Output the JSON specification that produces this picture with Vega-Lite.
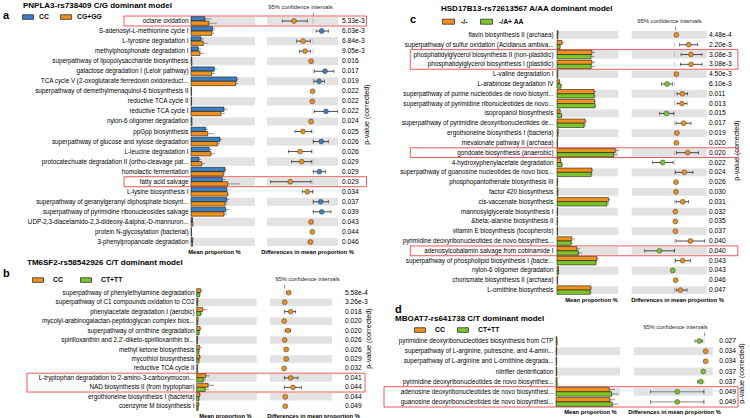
{
"$schema": "https://vega.github.io/schema/vega-lite/v6.json",
"padding": {"left": 3, "top": 1, "right": 0, "bottom": 0},
"config": {
  "font": "Liberation Sans",
  "view": {"stroke": null},
  "axis": {"grid": false, "domain": false, "ticks": false, "labels": false, "titleFontSize": 5.8, "titleFontWeight": "bold", "titleColor": "black", "titlePadding": 1},
  "title": {"color": "black"},
  "legend": {"padding": 0}
},
"datasets": {
  "a_ci": [
    {"path": "octane oxidation", "g": "CG+GG", "d": -0.19, "lo": -0.307, "hi": -0.057, "p": "5.33e-3"},
    {"path": "S-adenosyl-L-methionine cycle I", "g": "CC", "d": 0.087, "lo": 0.03, "hi": 0.153, "p": "6.03e-3"},
    {"path": "L-tyrosine degradation I", "g": "CG+GG", "d": -0.10, "lo": -0.163, "hi": -0.027, "p": "6.84e-3"},
    {"path": "methylphosphonate degradation I", "g": "CG+GG", "d": -0.08, "lo": -0.137, "hi": -0.023, "p": "9.05e-3"},
    {"path": "superpathway of lipopolysaccharide biosynthesis", "g": "CG+GG", "d": -0.02, "lo": -0.03, "hi": -0.01, "p": "0.016"},
    {"path": "galactose degradation I (Leloir pathway)", "g": "CC", "d": 0.12, "lo": 0.013, "hi": 0.21, "p": "0.017"},
    {"path": "TCA cycle V (2-oxoglutarate:ferredoxin oxidoreduct...", "g": "CC", "d": 0.06, "lo": 0.01, "hi": 0.113, "p": "0.019"},
    {"path": "superpathway of demethylmenaquinol-6 biosynthesis II", "g": "CG+GG", "d": -0.004, "lo": -0.006, "hi": -0.002, "p": "0.022"},
    {"path": "reductive TCA cycle II", "g": "CG+GG", "d": -0.007, "lo": -0.01, "hi": -0.004, "p": "0.022"},
    {"path": "reductive TCA cycle I", "g": "CC", "d": 0.13, "lo": 0.013, "hi": 0.247, "p": "0.022"},
    {"path": "nylon-6 oligomer degradation", "g": "CG+GG", "d": -0.02, "lo": -0.03, "hi": -0.01, "p": "0.024"},
    {"path": "ppGpp biosynthesis", "g": "CG+GG", "d": -0.10, "lo": -0.18, "hi": -0.013, "p": "0.025"},
    {"path": "superpathway of glucose and xylose degradation", "g": "CC", "d": 0.083, "lo": 0.003, "hi": 0.153, "p": "0.026"},
    {"path": "L-leucine degradation I", "g": "CG+GG", "d": -0.13, "lo": -0.247, "hi": -0.013, "p": "0.026"},
    {"path": "protocatechuate degradation II (ortho-cleavage pat...", "g": "CG+GG", "d": -0.113, "lo": -0.213, "hi": -0.013, "p": "0.029"},
    {"path": "homolactic fermentation", "g": "CC", "d": 0.063, "lo": 0.003, "hi": 0.127, "p": "0.029"},
    {"path": "fatty acid salvage", "g": "CG+GG", "d": -0.227, "lo": -0.423, "hi": -0.02, "p": "0.029"},
    {"path": "L-lysine biosynthesis I", "g": "CG+GG", "d": -0.057, "lo": -0.107, "hi": -0.003, "p": "0.034"},
    {"path": "superpathway of geranylgeranyl diphosphate biosynt...", "g": "CC", "d": 0.077, "lo": 0.003, "hi": 0.153, "p": "0.037"},
    {"path": "superpathway of pyrimidine ribonucleosides salvage", "g": "CC", "d": 0.087, "lo": 0.003, "hi": 0.18, "p": "0.039"},
    {"path": "UDP-2,3-diacetamido-2,3-dideoxy-&alpha;-D-mannuron...", "g": "CG+GG", "d": -0.02, "lo": -0.03, "hi": -0.01, "p": "0.043"},
    {"path": "protein N-glycosylation (bacterial)", "g": "CG+GG", "d": -0.007, "lo": -0.01, "hi": -0.004, "p": "0.044"},
    {"path": "3-phenylpropanoate degradation", "g": "CG+GG", "d": -0.027, "lo": -0.04, "hi": -0.015, "p": "0.046"}
  ],
  "a_bars": [
    {"path": "octane oxidation", "g": "CC", "m": 0.14, "hi": 0.207},
    {"path": "octane oxidation", "g": "CG+GG", "m": 0.18, "hi": 0.257},
    {"path": "S-adenosyl-L-methionine cycle I", "g": "CC", "m": 0.217, "hi": 0.24},
    {"path": "S-adenosyl-L-methionine cycle I", "g": "CG+GG", "m": 0.207, "hi": 0.23},
    {"path": "L-tyrosine degradation I", "g": "CC", "m": 0.10, "hi": 0.13},
    {"path": "L-tyrosine degradation I", "g": "CG+GG", "m": 0.123, "hi": 0.167},
    {"path": "methylphosphonate degradation I", "g": "CC", "m": 0.073, "hi": 0.10},
    {"path": "methylphosphonate degradation I", "g": "CG+GG", "m": 0.09, "hi": 0.133},
    {"path": "superpathway of lipopolysaccharide biosynthesis", "g": "CC", "m": 0.008, "hi": 0.012},
    {"path": "superpathway of lipopolysaccharide biosynthesis", "g": "CG+GG", "m": 0.009, "hi": 0.013},
    {"path": "galactose degradation I (Leloir pathway)", "g": "CC", "m": 0.233, "hi": 0.26},
    {"path": "galactose degradation I (Leloir pathway)", "g": "CG+GG", "m": 0.207, "hi": 0.24},
    {"path": "TCA cycle V (2-oxoglutarate:ferredoxin oxidoreduct...", "g": "CC", "m": 0.457, "hi": 0.48},
    {"path": "TCA cycle V (2-oxoglutarate:ferredoxin oxidoreduct...", "g": "CG+GG", "m": 0.447, "hi": 0.47},
    {"path": "superpathway of demethylmenaquinol-6 biosynthesis II", "g": "CC", "m": 0.006, "hi": 0.008},
    {"path": "superpathway of demethylmenaquinol-6 biosynthesis II", "g": "CG+GG", "m": 0.005, "hi": 0.007},
    {"path": "reductive TCA cycle II", "g": "CC", "m": 0.006, "hi": 0.008},
    {"path": "reductive TCA cycle II", "g": "CG+GG", "m": 0.005, "hi": 0.007},
    {"path": "reductive TCA cycle I", "g": "CC", "m": 0.33, "hi": 0.367},
    {"path": "reductive TCA cycle I", "g": "CG+GG", "m": 0.30, "hi": 0.34},
    {"path": "nylon-6 oligomer degradation", "g": "CC", "m": 0.009, "hi": 0.013},
    {"path": "nylon-6 oligomer degradation", "g": "CG+GG", "m": 0.01, "hi": 0.015},
    {"path": "ppGpp biosynthesis", "g": "CC", "m": 0.147, "hi": 0.17},
    {"path": "ppGpp biosynthesis", "g": "CG+GG", "m": 0.167, "hi": 0.233},
    {"path": "superpathway of glucose and xylose degradation", "g": "CC", "m": 0.29, "hi": 0.313},
    {"path": "superpathway of glucose and xylose degradation", "g": "CG+GG", "m": 0.263, "hi": 0.29},
    {"path": "L-leucine degradation I", "g": "CC", "m": 0.183, "hi": 0.21},
    {"path": "L-leucine degradation I", "g": "CG+GG", "m": 0.20, "hi": 0.24},
    {"path": "protocatechuate degradation II (ortho-cleavage pat...", "g": "CC", "m": 0.08, "hi": 0.10},
    {"path": "protocatechuate degradation II (ortho-cleavage pat...", "g": "CG+GG", "m": 0.107, "hi": 0.14},
    {"path": "homolactic fermentation", "g": "CC", "m": 0.34, "hi": 0.357},
    {"path": "homolactic fermentation", "g": "CG+GG", "m": 0.323, "hi": 0.345},
    {"path": "fatty acid salvage", "g": "CC", "m": 0.313, "hi": 0.35},
    {"path": "fatty acid salvage", "g": "CG+GG", "m": 0.367, "hi": 0.49},
    {"path": "L-lysine biosynthesis I", "g": "CC", "m": 0.357, "hi": 0.375},
    {"path": "L-lysine biosynthesis I", "g": "CG+GG", "m": 0.367, "hi": 0.383},
    {"path": "superpathway of geranylgeranyl diphosphate biosynt...", "g": "CC", "m": 0.357, "hi": 0.383},
    {"path": "superpathway of geranylgeranyl diphosphate biosynt...", "g": "CG+GG", "m": 0.34, "hi": 0.365},
    {"path": "superpathway of pyrimidine ribonucleosides salvage", "g": "CC", "m": 0.347, "hi": 0.383},
    {"path": "superpathway of pyrimidine ribonucleosides salvage", "g": "CG+GG", "m": 0.33, "hi": 0.36},
    {"path": "UDP-2,3-diacetamido-2,3-dideoxy-&alpha;-D-mannuron...", "g": "CC", "m": 0.015, "hi": 0.02},
    {"path": "UDP-2,3-diacetamido-2,3-dideoxy-&alpha;-D-mannuron...", "g": "CG+GG", "m": 0.018, "hi": 0.025},
    {"path": "protein N-glycosylation (bacterial)", "g": "CC", "m": 0.005, "hi": 0.007},
    {"path": "protein N-glycosylation (bacterial)", "g": "CG+GG", "m": 0.006, "hi": 0.008},
    {"path": "3-phenylpropanoate degradation", "g": "CC", "m": 0.018, "hi": 0.023},
    {"path": "3-phenylpropanoate degradation", "g": "CG+GG", "m": 0.015, "hi": 0.021}
  ],
  "a_hl": [
    {"first": "octane oxidation", "last": "octane oxidation"},
    {"first": "fatty acid salvage", "last": "fatty acid salvage"}
  ],
  "b_ci": [
    {"path": "superpathway of phenylethylamine degradation", "g": "CC", "d": 0.047, "lo": 0.024, "hi": 0.067, "p": "5.58e-4"},
    {"path": "superpathway of C1 compounds oxidation to CO2", "g": "CC", "d": 0.007, "lo": 0.004, "hi": 0.01, "p": "3.26e-3"},
    {"path": "phenylacetate degradation I (aerobic)", "g": "CC", "d": 0.067, "lo": 0.007, "hi": 0.117, "p": "0.018"},
    {"path": "mycolyl-arabinogalactan-peptidoglycan complex bios...", "g": "CC", "d": 0.002, "lo": 0.0, "hi": 0.004, "p": "0.020"},
    {"path": "superpathway of ornithine degradation", "g": "CC", "d": 0.04, "lo": 0.013, "hi": 0.067, "p": "0.020"},
    {"path": "spirilloxanthin and 2,2'-diketo-spirilloxanthin bi...", "g": "CC", "d": 0.007, "lo": 0.004, "hi": 0.01, "p": "0.026"},
    {"path": "methyl ketone biosynthesis", "g": "CC", "d": 0.023, "lo": 0.015, "hi": 0.03, "p": "0.026"},
    {"path": "mycothiol biosynthesis", "g": "CC", "d": 0.023, "lo": 0.015, "hi": 0.03, "p": "0.029"},
    {"path": "reductive TCA cycle II", "g": "CC", "d": 0.002, "lo": 0.0, "hi": 0.004, "p": "0.032"},
    {"path": "L-tryptophan degradation to 2-amino-3-carboxymucon...", "g": "CC", "d": 0.067, "lo": 0.007, "hi": 0.14, "p": "0.041"},
    {"path": "NAD biosynthesis II (from tryptophan)", "g": "CC", "d": 0.09, "lo": 0.007, "hi": 0.173, "p": "0.044"},
    {"path": "ergothioneine biosynthesis I (bacteria)", "g": "CC", "d": 0.013, "lo": 0.008, "hi": 0.018, "p": "0.044"},
    {"path": "coenzyme M biosynthesis I", "g": "CC", "d": 0.013, "lo": 0.008, "hi": 0.018, "p": "0.049"}
  ],
  "b_bars": [
    {"path": "superpathway of phenylethylamine degradation", "g": "CC", "m": 0.04, "hi": 0.06},
    {"path": "superpathway of phenylethylamine degradation", "g": "CT+TT", "m": 0.03, "hi": 0.04},
    {"path": "superpathway of C1 compounds oxidation to CO2", "g": "CC", "m": 0.012, "hi": 0.016},
    {"path": "superpathway of C1 compounds oxidation to CO2", "g": "CT+TT", "m": 0.01, "hi": 0.014},
    {"path": "phenylacetate degradation I (aerobic)", "g": "CC", "m": 0.06, "hi": 0.10},
    {"path": "phenylacetate degradation I (aerobic)", "g": "CT+TT", "m": 0.04, "hi": 0.06},
    {"path": "mycolyl-arabinogalactan-peptidoglycan complex bios...", "g": "CC", "m": 0.012, "hi": 0.016},
    {"path": "mycolyl-arabinogalactan-peptidoglycan complex bios...", "g": "CT+TT", "m": 0.01, "hi": 0.014},
    {"path": "superpathway of ornithine degradation", "g": "CC", "m": 0.035, "hi": 0.045},
    {"path": "superpathway of ornithine degradation", "g": "CT+TT", "m": 0.025, "hi": 0.03},
    {"path": "spirilloxanthin and 2,2'-diketo-spirilloxanthin bi...", "g": "CC", "m": 0.01, "hi": 0.014},
    {"path": "spirilloxanthin and 2,2'-diketo-spirilloxanthin bi...", "g": "CT+TT", "m": 0.008, "hi": 0.012},
    {"path": "methyl ketone biosynthesis", "g": "CC", "m": 0.03, "hi": 0.045},
    {"path": "methyl ketone biosynthesis", "g": "CT+TT", "m": 0.022, "hi": 0.03},
    {"path": "mycothiol biosynthesis", "g": "CC", "m": 0.03, "hi": 0.045},
    {"path": "mycothiol biosynthesis", "g": "CT+TT", "m": 0.022, "hi": 0.03},
    {"path": "reductive TCA cycle II", "g": "CC", "m": 0.01, "hi": 0.014},
    {"path": "reductive TCA cycle II", "g": "CT+TT", "m": 0.009, "hi": 0.012},
    {"path": "L-tryptophan degradation to 2-amino-3-carboxymucon...", "g": "CC", "m": 0.09, "hi": 0.13},
    {"path": "L-tryptophan degradation to 2-amino-3-carboxymucon...", "g": "CT+TT", "m": 0.065, "hi": 0.09},
    {"path": "NAD biosynthesis II (from tryptophan)", "g": "CC", "m": 0.115, "hi": 0.175},
    {"path": "NAD biosynthesis II (from tryptophan)", "g": "CT+TT", "m": 0.085, "hi": 0.12},
    {"path": "ergothioneine biosynthesis I (bacteria)", "g": "CC", "m": 0.03, "hi": 0.045},
    {"path": "ergothioneine biosynthesis I (bacteria)", "g": "CT+TT", "m": 0.022, "hi": 0.03},
    {"path": "coenzyme M biosynthesis I", "g": "CC", "m": 0.02, "hi": 0.03},
    {"path": "coenzyme M biosynthesis I", "g": "CT+TT", "m": 0.015, "hi": 0.02}
  ],
  "b_hl": [
    {"first": "L-tryptophan degradation to 2-amino-3-carboxymucon...", "last": "NAD biosynthesis II (from tryptophan)"}
  ],
  "c_ci": [
    {"path": "flavin biosynthesis II (archaea)", "g": "-/-", "d": 0.017, "lo": 0.012, "hi": 0.022, "p": "4.48e-4"},
    {"path": "superpathway of sulfur oxidation (Acidianus ambiva...", "g": "-/-", "d": 0.14, "lo": 0.05, "hi": 0.23, "p": "2.20e-3"},
    {"path": "phosphatidylglycerol biosynthesis II (non-plastidic)", "g": "-/-", "d": 0.163, "lo": 0.063, "hi": 0.273, "p": "3.08e-3"},
    {"path": "phosphatidylglycerol biosynthesis I (plastidic)", "g": "-/-", "d": 0.163, "lo": 0.057, "hi": 0.273, "p": "3.08e-3"},
    {"path": "L-valine degradation I", "g": "-/-", "d": 0.017, "lo": 0.012, "hi": 0.022, "p": "4.50e-3"},
    {"path": "L-arabinose degradation IV", "g": "-/A+ AA", "d": -0.077, "lo": -0.133, "hi": -0.023, "p": "6.10e-3"},
    {"path": "superpathway of purine nucleotides de novo biosynt...", "g": "-/-", "d": 0.077, "lo": 0.023, "hi": 0.13, "p": "0.011"},
    {"path": "superpathway of pyrimidine ribonucleotides de novo...", "g": "-/-", "d": 0.073, "lo": 0.023, "hi": 0.123, "p": "0.013"},
    {"path": "isopropanol biosynthesis", "g": "-/A+ AA", "d": -0.083, "lo": -0.15, "hi": -0.01, "p": "0.015"},
    {"path": "superpathway of pyrimidine deoxyribonucleotides de...", "g": "-/-", "d": 0.09, "lo": 0.013, "hi": 0.163, "p": "0.017"},
    {"path": "ergothioneine biosynthesis I (bacteria)", "g": "-/-", "d": 0.023, "lo": 0.018, "hi": 0.028, "p": "0.019"},
    {"path": "mevalonate pathway II (archaea)", "g": "-/-", "d": 0.017, "lo": 0.012, "hi": 0.022, "p": "0.020"},
    {"path": "gondoate biosynthesis (anaerobic)", "g": "-/-", "d": 0.13, "lo": 0.017, "hi": 0.24, "p": "0.020"},
    {"path": "4-hydroxyphenylacetate degradation", "g": "-/A+ AA", "d": -0.12, "lo": -0.22, "hi": -0.017, "p": "0.022"},
    {"path": "superpathway of guanosine nucleotides de novo bios...", "g": "-/-", "d": 0.097, "lo": 0.007, "hi": 0.183, "p": "0.024"},
    {"path": "phosphopantothenate biosynthesis III", "g": "-/-", "d": 0.013, "lo": 0.009, "hi": 0.017, "p": "0.026"},
    {"path": "factor 420 biosynthesis", "g": "-/-", "d": 0.013, "lo": 0.009, "hi": 0.017, "p": "0.030"},
    {"path": "cis-vaccenate biosynthesis", "g": "-/-", "d": 0.08, "lo": 0.013, "hi": 0.14, "p": "0.031"},
    {"path": "mannosylglycerate biosynthesis I", "g": "-/-", "d": 0.007, "lo": 0.004, "hi": 0.01, "p": "0.032"},
    {"path": "&beta;-alanine biosynthesis II", "g": "-/-", "d": 0.007, "lo": 0.004, "hi": 0.01, "p": "0.035"},
    {"path": "vitamin E biosynthesis (tocopherols)", "g": "-/-", "d": 0.007, "lo": 0.004, "hi": 0.01, "p": "0.037"},
    {"path": "pyrimidine deoxyribonucleotides de novo biosynthes...", "g": "-/-", "d": 0.157, "lo": 0.013, "hi": 0.297, "p": "0.040"},
    {"path": "adenosylcobalamin salvage from cobinamide I", "g": "-/A+ AA", "d": -0.153, "lo": -0.30, "hi": -0.003, "p": "0.040"},
    {"path": "superpathway of phospholipid biosynthesis I (bacte...", "g": "-/-", "d": 0.08, "lo": 0.007, "hi": 0.157, "p": "0.043"},
    {"path": "nylon-6 oligomer degradation", "g": "-/A+ AA", "d": -0.02, "lo": -0.03, "hi": -0.01, "p": "0.043"},
    {"path": "chorismate biosynthesis II (archaea)", "g": "-/-", "d": 0.01, "lo": 0.006, "hi": 0.014, "p": "0.046"},
    {"path": "L-ornithine biosynthesis", "g": "-/-", "d": 0.057, "lo": 0.013, "hi": 0.123, "p": "0.047"}
  ],
  "c_bars": [
    {"path": "flavin biosynthesis II (archaea)", "g": "-/-", "m": 0.01, "hi": 0.014},
    {"path": "flavin biosynthesis II (archaea)", "g": "-/A+ AA", "m": 0.008, "hi": 0.012},
    {"path": "superpathway of sulfur oxidation (Acidianus ambiva...", "g": "-/-", "m": 0.05, "hi": 0.07},
    {"path": "superpathway of sulfur oxidation (Acidianus ambiva...", "g": "-/A+ AA", "m": 0.03, "hi": 0.04},
    {"path": "phosphatidylglycerol biosynthesis II (non-plastidic)", "g": "-/-", "m": 0.347, "hi": 0.38},
    {"path": "phosphatidylglycerol biosynthesis II (non-plastidic)", "g": "-/A+ AA", "m": 0.337, "hi": 0.37},
    {"path": "phosphatidylglycerol biosynthesis I (plastidic)", "g": "-/-", "m": 0.347, "hi": 0.38},
    {"path": "phosphatidylglycerol biosynthesis I (plastidic)", "g": "-/A+ AA", "m": 0.34, "hi": 0.37},
    {"path": "L-valine degradation I", "g": "-/-", "m": 0.007, "hi": 0.01},
    {"path": "L-valine degradation I", "g": "-/A+ AA", "m": 0.007, "hi": 0.01},
    {"path": "L-arabinose degradation IV", "g": "-/-", "m": 0.025, "hi": 0.035},
    {"path": "L-arabinose degradation IV", "g": "-/A+ AA", "m": 0.04, "hi": 0.05},
    {"path": "superpathway of purine nucleotides de novo biosynt...", "g": "-/-", "m": 0.37, "hi": 0.39},
    {"path": "superpathway of purine nucleotides de novo biosynt...", "g": "-/A+ AA", "m": 0.37, "hi": 0.39},
    {"path": "superpathway of pyrimidine ribonucleotides de novo...", "g": "-/-", "m": 0.373, "hi": 0.39},
    {"path": "superpathway of pyrimidine ribonucleotides de novo...", "g": "-/A+ AA", "m": 0.38, "hi": 0.39},
    {"path": "isopropanol biosynthesis", "g": "-/-", "m": 0.03, "hi": 0.04},
    {"path": "isopropanol biosynthesis", "g": "-/A+ AA", "m": 0.045, "hi": 0.055},
    {"path": "superpathway of pyrimidine deoxyribonucleotides de...", "g": "-/-", "m": 0.28, "hi": 0.297},
    {"path": "superpathway of pyrimidine deoxyribonucleotides de...", "g": "-/A+ AA", "m": 0.27, "hi": 0.29},
    {"path": "ergothioneine biosynthesis I (bacteria)", "g": "-/-", "m": 0.012, "hi": 0.016},
    {"path": "ergothioneine biosynthesis I (bacteria)", "g": "-/A+ AA", "m": 0.01, "hi": 0.014},
    {"path": "mevalonate pathway II (archaea)", "g": "-/-", "m": 0.007, "hi": 0.01},
    {"path": "mevalonate pathway II (archaea)", "g": "-/A+ AA", "m": 0.006, "hi": 0.009},
    {"path": "gondoate biosynthesis (anaerobic)", "g": "-/-", "m": 0.58, "hi": 0.613},
    {"path": "gondoate biosynthesis (anaerobic)", "g": "-/A+ AA", "m": 0.563, "hi": 0.6},
    {"path": "4-hydroxyphenylacetate degradation", "g": "-/-", "m": 0.035, "hi": 0.045},
    {"path": "4-hydroxyphenylacetate degradation", "g": "-/A+ AA", "m": 0.05, "hi": 0.06},
    {"path": "superpathway of guanosine nucleotides de novo bios...", "g": "-/-", "m": 0.347, "hi": 0.357},
    {"path": "superpathway of guanosine nucleotides de novo bios...", "g": "-/A+ AA", "m": 0.34, "hi": 0.355},
    {"path": "phosphopantothenate biosynthesis III", "g": "-/-", "m": 0.007, "hi": 0.01},
    {"path": "phosphopantothenate biosynthesis III", "g": "-/A+ AA", "m": 0.006, "hi": 0.009},
    {"path": "factor 420 biosynthesis", "g": "-/-", "m": 0.01, "hi": 0.013},
    {"path": "factor 420 biosynthesis", "g": "-/A+ AA", "m": 0.009, "hi": 0.012},
    {"path": "cis-vaccenate biosynthesis", "g": "-/-", "m": 0.513, "hi": 0.53},
    {"path": "cis-vaccenate biosynthesis", "g": "-/A+ AA", "m": 0.497, "hi": 0.52},
    {"path": "mannosylglycerate biosynthesis I", "g": "-/-", "m": 0.006, "hi": 0.008},
    {"path": "mannosylglycerate biosynthesis I", "g": "-/A+ AA", "m": 0.005, "hi": 0.007},
    {"path": "&beta;-alanine biosynthesis II", "g": "-/-", "m": 0.006, "hi": 0.008},
    {"path": "&beta;-alanine biosynthesis II", "g": "-/A+ AA", "m": 0.005, "hi": 0.007},
    {"path": "vitamin E biosynthesis (tocopherols)", "g": "-/-", "m": 0.006, "hi": 0.008},
    {"path": "vitamin E biosynthesis (tocopherols)", "g": "-/A+ AA", "m": 0.005, "hi": 0.007},
    {"path": "pyrimidine deoxyribonucleotides de novo biosynthes...", "g": "-/-", "m": 0.147, "hi": 0.18},
    {"path": "pyrimidine deoxyribonucleotides de novo biosynthes...", "g": "-/A+ AA", "m": 0.14, "hi": 0.16},
    {"path": "adenosylcobalamin salvage from cobinamide I", "g": "-/-", "m": 0.197, "hi": 0.23},
    {"path": "adenosylcobalamin salvage from cobinamide I", "g": "-/A+ AA", "m": 0.213, "hi": 0.247},
    {"path": "superpathway of phospholipid biosynthesis I (bacte...", "g": "-/-", "m": 0.397, "hi": 0.413},
    {"path": "superpathway of phospholipid biosynthesis I (bacte...", "g": "-/A+ AA", "m": 0.387, "hi": 0.40},
    {"path": "nylon-6 oligomer degradation", "g": "-/-", "m": 0.015, "hi": 0.018},
    {"path": "nylon-6 oligomer degradation", "g": "-/A+ AA", "m": 0.016, "hi": 0.02},
    {"path": "chorismate biosynthesis II (archaea)", "g": "-/-", "m": 0.007, "hi": 0.01},
    {"path": "chorismate biosynthesis II (archaea)", "g": "-/A+ AA", "m": 0.006, "hi": 0.009},
    {"path": "L-ornithine biosynthesis", "g": "-/-", "m": 0.337, "hi": 0.347},
    {"path": "L-ornithine biosynthesis", "g": "-/A+ AA", "m": 0.33, "hi": 0.345}
  ],
  "c_hl": [
    {"first": "phosphatidylglycerol biosynthesis II (non-plastidic)", "last": "phosphatidylglycerol biosynthesis I (plastidic)"},
    {"first": "gondoate biosynthesis (anaerobic)", "last": "gondoate biosynthesis (anaerobic)"},
    {"first": "adenosylcobalamin salvage from cobinamide I", "last": "adenosylcobalamin salvage from cobinamide I"}
  ],
  "d_ci": [
    {"path": "pyrimidine deoxyribonucleotides biosynthesis from CTP", "g": "CT+TT", "d": -0.047, "lo": -0.09, "hi": -0.017, "p": "0.027"},
    {"path": "superpathway of L-arginine, putrescine, and 4-amin...", "g": "CC", "d": 0.017, "lo": 0.012, "hi": 0.022, "p": "0.034"},
    {"path": "superpathway of L-arginine and L-ornithine degrada...", "g": "CC", "d": 0.017, "lo": 0.012, "hi": 0.022, "p": "0.034"},
    {"path": "nitrifier denitrification", "g": "CT+TT", "d": -0.007, "lo": -0.01, "hi": -0.004, "p": "0.037"},
    {"path": "pyrimidine deoxyribonucleotides de novo biosynthes...", "g": "CT+TT", "d": -0.033, "lo": -0.067, "hi": -0.013, "p": "0.037"},
    {"path": "adenosine deoxyribonucleotides de novo biosynthesi...", "g": "CT+TT", "d": -0.267, "lo": -0.533, "hi": -0.001, "p": "0.049"},
    {"path": "guanosine deoxyribonucleotides de novo biosynthesi...", "g": "CT+TT", "d": -0.267, "lo": -0.533, "hi": -0.001, "p": "0.049"}
  ],
  "d_bars": [
    {"path": "pyrimidine deoxyribonucleotides biosynthesis from CTP", "g": "CC", "m": 0.01, "hi": 0.013},
    {"path": "pyrimidine deoxyribonucleotides biosynthesis from CTP", "g": "CT+TT", "m": 0.012, "hi": 0.015},
    {"path": "superpathway of L-arginine, putrescine, and 4-amin...", "g": "CC", "m": 0.007, "hi": 0.01},
    {"path": "superpathway of L-arginine, putrescine, and 4-amin...", "g": "CT+TT", "m": 0.006, "hi": 0.009},
    {"path": "superpathway of L-arginine and L-ornithine degrada...", "g": "CC", "m": 0.007, "hi": 0.01},
    {"path": "superpathway of L-arginine and L-ornithine degrada...", "g": "CT+TT", "m": 0.006, "hi": 0.009},
    {"path": "nitrifier denitrification", "g": "CC", "m": 0.007, "hi": 0.01},
    {"path": "nitrifier denitrification", "g": "CT+TT", "m": 0.008, "hi": 0.011},
    {"path": "pyrimidine deoxyribonucleotides de novo biosynthes...", "g": "CC", "m": 0.01, "hi": 0.013},
    {"path": "pyrimidine deoxyribonucleotides de novo biosynthes...", "g": "CT+TT", "m": 0.012, "hi": 0.015},
    {"path": "adenosine deoxyribonucleotides de novo biosynthesi...", "g": "CC", "m": 0.533, "hi": 0.59},
    {"path": "adenosine deoxyribonucleotides de novo biosynthesi...", "g": "CT+TT", "m": 0.557, "hi": 0.623},
    {"path": "guanosine deoxyribonucleotides de novo biosynthesi...", "g": "CC", "m": 0.54, "hi": 0.59},
    {"path": "guanosine deoxyribonucleotides de novo biosynthesi...", "g": "CT+TT", "m": 0.563, "hi": 0.623}
  ],
  "d_hl": [
    {"first": "adenosine deoxyribonucleotides de novo biosynthesi...", "last": "guanosine deoxyribonucleotides de novo biosynthesi..."}
  ]
},
"bounds": "flush",
"spacing": 365,
"resolve": {"scale": {"x": "independent", "y": "independent", "fill": "independent", "yOffset": "independent"}, "legend": {"fill": "independent"}, "axis": {"x": "independent", "y": "independent"}},
"hconcat": [
 {"vconcat": [
  {
   "width": 180, "height": 231,
   "title": {"text": "PNPLA3-rs738409 C/G dominant model", "anchor": "start", "frame": "group", "dx": -167, "dy": 6, "offset": 0, "fontSize": 8, "fontWeight": "bold"},
   "resolve": {"scale": {"x": "independent"}, "axis": {"x": "independent", "y": "independent"}},
   "layer": [
    {"data": {"name": "a_ci"}, "transform": [{"window": [{"op": "row_number", "as": "rn"}]}],
     "mark": {"type": "bar", "height": {"band": 0.8}},
     "encoding": {
       "y": {"field": "path", "type": "nominal", "sort": null, "scale": {"paddingInner": 0, "paddingOuter": 0}, "axis": {"title": null, "labels": true, "labelFontSize": 6.3, "labelPadding": 2, "labelLimit": 400, "labelColor": "black", "orient": "left"}},
       "x": {"datum": 0, "type": "quantitative", "scale": {"domain": [0, 0.64], "range": [1, 65], "nice": false, "zero": false}, "axis": null},
       "x2": {"datum": 0.64},
       "color": {"condition": {"test": "datum.rn % 2 == 1", "value": "#e2e2e2"}, "value": "transparent"}
     }},
    {"data": {"name": "a_ci"}, "transform": [{"window": [{"op": "row_number", "as": "rn"}]}],
     "mark": {"type": "bar", "height": {"band": 0.8}},
     "encoding": {
       "y": {"field": "path", "type": "nominal", "sort": null, "axis": null},
       "x": {"datum": -0.46, "type": "quantitative", "scale": {"domain": [-0.46, 0.25], "range": [77, 148], "nice": false, "zero": false}, "axis": null},
       "x2": {"datum": 0.25},
       "color": {"condition": {"test": "datum.rn % 2 == 1", "value": "#e2e2e2"}, "value": "transparent"}
     }},
    {"data": {"name": "a_hl"}, "mark": {"type": "rect", "fill": null, "stroke": "#e8312f", "strokeWidth": 0.8, "yOffset": -5, "y2Offset": 5},
     "encoding": {
       "y": {"field": "first", "type": "nominal", "sort": null, "axis": null},
       "y2": {"field": "last"},
       "x": {"datum": -0.67, "type": "quantitative", "scale": {"domain": [0, 0.64], "range": [1, 65], "nice": false, "zero": false}, "axis": null},
       "x2": {"datum": 1.755}
     }},
    {"data": {"name": "a_bars"}, "mark": {"type": "rule", "color": "#555555", "strokeWidth": 0.6},
     "encoding": {
       "y": {"field": "path", "type": "nominal", "sort": null, "axis": null},
       "yOffset": {"field": "g", "type": "nominal", "sort": null, "scale": {"paddingOuter": 0.15, "paddingInner": 0}},
       "x": {"field": "m", "type": "quantitative", "scale": {"domain": [0, 0.64], "range": [1, 65], "nice": false, "zero": false}, "axis": null},
       "x2": {"field": "hi"}
     }},
    {"data": {"name": "a_bars"}, "mark": {"type": "bar", "stroke": "black", "strokeWidth": 0.5},
     "encoding": {
       "y": {"field": "path", "type": "nominal", "sort": null, "axis": null},
       "yOffset": {"field": "g", "type": "nominal", "sort": null},
       "x": {"field": "m", "type": "quantitative", "scale": {"domain": [0, 0.64], "range": [1, 65], "nice": false, "zero": false}, "axis": {"orient": "bottom", "title": "Mean proportion %", "titleX": 24}},
       "fill": {"field": "g", "type": "nominal", "scale": {"domain": ["CC", "CG+GG"], "range": ["#3a7fc1", "#f0901e"]},
         "legend": {"orient": "none", "legendX": -187, "legendY": -5, "direction": "horizontal", "title": "a", "titleOrient": "left", "titleFontSize": 11, "titleFontWeight": "bold", "titleColor": "black", "titlePadding": 12, "titleBaseline": "middle", "symbolType": "M-1,-0.42H1V0.42H-1Z", "symbolSize": 121, "symbolStrokeColor": "black", "symbolStrokeWidth": 0.8, "symbolOpacity": 1, "labelFontSize": 6.8, "labelFontWeight": "bold", "labelOffset": 5, "columnPadding": 9}}
     }},
    {"data": {"name": "a_ci"}, "mark": {"type": "tick", "color": "#777777", "size": 5, "thickness": 0.5},
     "encoding": {
       "y": {"field": "path", "type": "nominal", "sort": null, "axis": null},
       "x": {"datum": 0, "type": "quantitative", "scale": {"domain": [-0.46, 0.25], "range": [77, 148], "nice": false, "zero": false}, "axis": {"orient": "top", "values": [0], "ticks": true, "tickSize": 4, "tickColor": "#555555", "tickWidth": 0.6, "title": "95% confidence intervals", "titleFontWeight": "normal", "titleColor": "#222222", "titlePadding": 2, "titleX": 110}}
     }},
    {"data": {"name": "a_ci"}, "mark": {"type": "rule", "color": "black", "strokeWidth": 0.7},
     "encoding": {
       "y": {"field": "path", "type": "nominal", "sort": null, "axis": null},
       "x": {"field": "lo", "type": "quantitative", "scale": {"domain": [-0.46, 0.25], "range": [77, 148], "nice": false, "zero": false}, "axis": null},
       "x2": {"field": "hi"}
     }},
    {"data": {"name": "a_ci"}, "mark": {"type": "tick", "color": "black", "size": 3.5, "thickness": 0.7},
     "encoding": {
       "y": {"field": "path", "type": "nominal", "sort": null, "axis": null},
       "x": {"field": "lo", "type": "quantitative", "scale": {"domain": [-0.46, 0.25], "range": [77, 148], "nice": false, "zero": false}, "axis": null}
     }},
    {"data": {"name": "a_ci"}, "mark": {"type": "tick", "color": "black", "size": 3.5, "thickness": 0.7},
     "encoding": {
       "y": {"field": "path", "type": "nominal", "sort": null, "axis": null},
       "x": {"field": "hi", "type": "quantitative", "scale": {"domain": [-0.46, 0.25], "range": [77, 148], "nice": false, "zero": false}, "axis": null}
     }},
    {"data": {"name": "a_ci"}, "mark": {"type": "point", "filled": true, "size": 24, "stroke": "#333333", "strokeWidth": 0.5, "opacity": 1},
     "encoding": {
       "y": {"field": "path", "type": "nominal", "sort": null, "axis": null},
       "x": {"field": "d", "type": "quantitative", "scale": {"domain": [-0.46, 0.25], "range": [77, 148], "nice": false, "zero": false}, "axis": {"orient": "bottom", "title": "Differences in mean proportion %", "titleX": 117}},
       "fill": {"field": "g", "type": "nominal"}
     }},
    {"data": {"name": "a_ci"}, "mark": {"type": "text", "align": "left", "fontSize": 6.7, "color": "black"},
     "encoding": {
       "y": {"field": "path", "type": "nominal", "sort": null, "axis": {"orient": "right", "title": "p-value (corrected)", "titleAngle": 270, "titleAlign": "center", "titleFontWeight": "normal", "titleFontSize": 7.2, "titlePadding": 0, "titleY": 98}},
       "x": {"datum": 0.29, "type": "quantitative", "scale": {"domain": [-0.46, 0.25], "range": [77, 148], "nice": false, "zero": false}, "axis": null},
       "text": {"field": "p"}
     }}
   ]
  },
  {
   "width": 180, "height": 123,
   "title": {"text": "TM6SF2-rs58542926 C/T dominant model", "anchor": "start", "frame": "group", "dx": -163, "dy": -7, "offset": 0, "fontSize": 8, "fontWeight": "bold"},
   "resolve": {"scale": {"x": "independent"}, "axis": {"x": "independent", "y": "independent"}},
   "layer": [
    {"data": {"name": "b_ci"}, "transform": [{"window": [{"op": "row_number", "as": "rn"}]}],
     "mark": {"type": "bar", "height": {"band": 0.8}},
     "encoding": {
       "y": {"field": "path", "type": "nominal", "sort": null, "scale": {"paddingInner": 0, "paddingOuter": 0}, "axis": {"title": null, "labels": true, "labelFontSize": 6.3, "labelPadding": 2, "labelLimit": 400, "labelColor": "black", "orient": "left", "offset": -6}},
       "x": {"datum": 0, "type": "quantitative", "scale": {"domain": [0, 0.6], "range": [6.7, 66.7], "nice": false, "zero": false}, "axis": null},
       "x2": {"datum": 0.6},
       "color": {"condition": {"test": "datum.rn % 2 == 0", "value": "#e2e2e2"}, "value": "transparent"}
     }},
    {"data": {"name": "b_ci"}, "transform": [{"window": [{"op": "row_number", "as": "rn"}]}],
     "mark": {"type": "bar", "height": {"band": 0.8}},
     "encoding": {
       "y": {"field": "path", "type": "nominal", "sort": null, "axis": null},
       "x": {"datum": -0.14, "type": "quantitative", "scale": {"domain": [-0.14, 0.48], "range": [80, 142], "nice": false, "zero": false}, "axis": null},
       "x2": {"datum": 0.48},
       "color": {"condition": {"test": "datum.rn % 2 == 0", "value": "#e2e2e2"}, "value": "transparent"}
     }},
    {"data": {"name": "b_hl"}, "mark": {"type": "rect", "fill": null, "stroke": "#e8312f", "strokeWidth": 0.8, "yOffset": -4.7, "y2Offset": 4.7},
     "encoding": {
       "y": {"field": "first", "type": "nominal", "sort": null, "axis": null},
       "y2": {"field": "last"},
       "x": {"datum": -1.697, "type": "quantitative", "scale": {"domain": [0, 0.6], "range": [6.7, 66.7], "nice": false, "zero": false}, "axis": null},
       "x2": {"datum": 1.683}
     }},
    {"data": {"name": "b_bars"}, "mark": {"type": "rule", "color": "#444444", "strokeWidth": 0.6},
     "encoding": {
       "y": {"field": "path", "type": "nominal", "sort": null, "axis": null},
       "yOffset": {"field": "g", "type": "nominal", "sort": null, "scale": {"paddingOuter": 0.15, "paddingInner": 0}},
       "x": {"field": "m", "type": "quantitative", "scale": {"domain": [0, 0.6], "range": [6.7, 66.7], "nice": false, "zero": false}, "axis": null},
       "x2": {"field": "hi"}
     }},
    {"data": {"name": "b_bars"}, "mark": {"type": "bar", "stroke": "black", "strokeWidth": 0.5},
     "encoding": {
       "y": {"field": "path", "type": "nominal", "sort": null, "axis": null},
       "yOffset": {"field": "g", "type": "nominal", "sort": null},
       "x": {"field": "m", "type": "quantitative", "scale": {"domain": [0, 0.6], "range": [6.7, 66.7], "nice": false, "zero": false}, "axis": {"orient": "bottom", "title": "Mean proportion %", "titleX": 35}},
       "fill": {"field": "g", "type": "nominal", "scale": {"domain": ["CC", "CT+TT"], "range": ["#f0901e", "#7cc52c"]},
         "legend": {"orient": "none", "legendX": -187, "legendY": -14, "direction": "horizontal", "title": "b", "titleOrient": "left", "titleFontSize": 11, "titleFontWeight": "bold", "titleColor": "black", "titlePadding": 22, "titleBaseline": "bottom", "symbolType": "M-1,-0.42H1V0.42H-1Z", "symbolSize": 121, "symbolStrokeColor": "black", "symbolStrokeWidth": 0.8, "symbolOpacity": 1, "labelFontSize": 6.8, "labelFontWeight": "bold", "labelOffset": 9, "columnPadding": 15}}
     }},
    {"data": {"name": "b_ci"}, "mark": {"type": "tick", "color": "#777777", "size": 5, "thickness": 0.5},
     "encoding": {
       "y": {"field": "path", "type": "nominal", "sort": null, "axis": null},
       "x": {"datum": 0, "type": "quantitative", "scale": {"domain": [-0.14, 0.48], "range": [80, 142], "nice": false, "zero": false}, "axis": {"orient": "top", "values": [0], "ticks": true, "tickSize": 4, "tickColor": "#555555", "tickWidth": 0.6, "title": "95% confidence intervals", "titleFontWeight": "normal", "titleColor": "#222222", "titlePadding": 2, "titleX": 117}}
     }},
    {"data": {"name": "b_ci"}, "mark": {"type": "rule", "color": "black", "strokeWidth": 0.7},
     "encoding": {
       "y": {"field": "path", "type": "nominal", "sort": null, "axis": null},
       "x": {"field": "lo", "type": "quantitative", "scale": {"domain": [-0.14, 0.48], "range": [80, 142], "nice": false, "zero": false}, "axis": null},
       "x2": {"field": "hi"}
     }},
    {"data": {"name": "b_ci"}, "mark": {"type": "tick", "color": "black", "size": 3.5, "thickness": 0.7},
     "encoding": {
       "y": {"field": "path", "type": "nominal", "sort": null, "axis": null},
       "x": {"field": "lo", "type": "quantitative", "scale": {"domain": [-0.14, 0.48], "range": [80, 142], "nice": false, "zero": false}, "axis": null}
     }},
    {"data": {"name": "b_ci"}, "mark": {"type": "tick", "color": "black", "size": 3.5, "thickness": 0.7},
     "encoding": {
       "y": {"field": "path", "type": "nominal", "sort": null, "axis": null},
       "x": {"field": "hi", "type": "quantitative", "scale": {"domain": [-0.14, 0.48], "range": [80, 142], "nice": false, "zero": false}, "axis": null}
     }},
    {"data": {"name": "b_ci"}, "mark": {"type": "point", "filled": true, "size": 24, "stroke": "#333333", "strokeWidth": 0.5, "opacity": 1},
     "encoding": {
       "y": {"field": "path", "type": "nominal", "sort": null, "axis": null},
       "x": {"field": "d", "type": "quantitative", "scale": {"domain": [-0.14, 0.48], "range": [80, 142], "nice": false, "zero": false}, "axis": {"orient": "bottom", "title": "Differences in mean proportion %", "titleX": 123}},
       "fill": {"field": "g", "type": "nominal"}
     }},
    {"data": {"name": "b_ci"}, "mark": {"type": "text", "align": "left", "fontSize": 6.7, "color": "black"},
     "encoding": {
       "y": {"field": "path", "type": "nominal", "sort": null, "axis": {"orient": "right", "title": "p-value (corrected)", "titleAngle": 270, "titleAlign": "center", "titleFontWeight": "normal", "titleFontSize": 7.2, "titlePadding": 2, "titleY": 50}},
       "x": {"datum": 0.61, "type": "quantitative", "scale": {"domain": [-0.14, 0.48], "range": [80, 142], "nice": false, "zero": false}, "axis": null},
       "text": {"field": "p"}
     }}
   ]
  }
 ], "spacing": 41, "bounds": "flush",
 "resolve": {"scale": {"x": "independent", "y": "independent", "fill": "independent", "yOffset": "independent"}, "legend": {"fill": "independent"}, "axis": {"x": "independent", "y": "independent"}}},
 {"vconcat": [
  {
   "width": 182, "height": 279,
   "title": {"text": "HSD17B13-rs72613567 A/AA dominant model", "anchor": "start", "frame": "group", "dx": -114, "dy": -2, "offset": 0, "fontSize": 8, "fontWeight": "bold"},
   "resolve": {"scale": {"x": "independent"}, "axis": {"x": "independent", "y": "independent"}},
   "layer": [
    {"data": {"name": "c_ci"}, "transform": [{"window": [{"op": "row_number", "as": "rn"}]}],
     "mark": {"type": "bar", "height": {"band": 0.8}},
     "encoding": {
       "y": {"field": "path", "type": "nominal", "sort": null, "scale": {"range": [14, 279], "paddingInner": 0, "paddingOuter": 0}, "axis": {"title": null, "labels": true, "labelFontSize": 6.3, "labelPadding": 2, "labelLimit": 400, "labelColor": "black", "orient": "left"}},
       "x": {"datum": 0, "type": "quantitative", "scale": {"domain": [0, 0.61], "range": [2, 63.3], "nice": false, "zero": false}, "axis": null},
       "x2": {"datum": 0.61},
       "color": {"condition": {"test": "datum.rn % 2 == 1", "value": "#e2e2e2"}, "value": "transparent"}
     }},
    {"data": {"name": "c_ci"}, "transform": [{"window": [{"op": "row_number", "as": "rn"}]}],
     "mark": {"type": "bar", "height": {"band": 0.8}},
     "encoding": {
       "y": {"field": "path", "type": "nominal", "sort": null, "axis": null},
       "x": {"datum": -0.43, "type": "quantitative", "scale": {"domain": [-0.43, 0.32], "range": [76.7, 151.7], "nice": false, "zero": false}, "axis": null},
       "x2": {"datum": 0.32},
       "color": {"condition": {"test": "datum.rn % 2 == 1", "value": "#e2e2e2"}, "value": "transparent"}
     }},
    {"data": {"name": "c_hl"}, "mark": {"type": "rect", "fill": null, "stroke": "#e8312f", "strokeWidth": 0.8, "yOffset": -4.9, "y2Offset": 4.9},
     "encoding": {
       "y": {"field": "first", "type": "nominal", "sort": null, "axis": null},
       "y2": {"field": "last"},
       "x": {"datum": -1.46, "type": "quantitative", "scale": {"domain": [0, 0.61], "range": [2, 63.3], "nice": false, "zero": false}, "axis": null},
       "x2": {"datum": 1.80}
     }},
    {"data": {"name": "c_bars"}, "mark": {"type": "rule", "color": "#444444", "strokeWidth": 0.6},
     "encoding": {
       "y": {"field": "path", "type": "nominal", "sort": null, "axis": null},
       "yOffset": {"field": "g", "type": "nominal", "sort": null, "scale": {"paddingOuter": 0.15, "paddingInner": 0}},
       "x": {"field": "m", "type": "quantitative", "scale": {"domain": [0, 0.61], "range": [2, 63.3], "nice": false, "zero": false}, "axis": null},
       "x2": {"field": "hi"}
     }},
    {"data": {"name": "c_bars"}, "mark": {"type": "bar", "stroke": "black", "strokeWidth": 0.5},
     "encoding": {
       "y": {"field": "path", "type": "nominal", "sort": null, "axis": null},
       "yOffset": {"field": "g", "type": "nominal", "sort": null},
       "x": {"field": "m", "type": "quantitative", "scale": {"domain": [0, 0.61], "range": [2, 63.3], "nice": false, "zero": false}, "axis": {"orient": "bottom", "title": "Mean proportion %", "titleX": 36}},
       "fill": {"field": "g", "type": "nominal", "scale": {"domain": ["-/-", "-/A+ AA"], "range": ["#f0901e", "#7cc52c"]},
         "legend": {"orient": "none", "legendX": -145, "legendY": -1, "direction": "horizontal", "title": "c", "titleOrient": "left", "titleFontSize": 11, "titleFontWeight": "bold", "titleColor": "black", "titlePadding": 25, "titleBaseline": "middle", "symbolType": "M-1,-0.42H1V0.42H-1Z", "symbolSize": 144, "symbolStrokeColor": "black", "symbolStrokeWidth": 0.8, "symbolOpacity": 1, "labelFontSize": 6.8, "labelFontWeight": "bold", "labelOffset": 6, "columnPadding": 10}}
     }},
    {"data": {"name": "c_ci"}, "mark": {"type": "tick", "color": "#777777", "size": 5, "thickness": 0.5},
     "encoding": {
       "y": {"field": "path", "type": "nominal", "sort": null, "axis": null},
       "x": {"datum": 0, "type": "quantitative", "scale": {"domain": [-0.43, 0.32], "range": [76.7, 151.7], "nice": false, "zero": false}, "axis": {"orient": "top", "offset": -14, "values": [0], "ticks": true, "tickSize": 4, "tickColor": "#555555", "tickWidth": 0.6, "title": "95% confidence intervals", "titleFontWeight": "normal", "titleColor": "#222222", "titlePadding": 2, "titleX": 114}}
     }},
    {"data": {"name": "c_ci"}, "mark": {"type": "rule", "color": "black", "strokeWidth": 0.7},
     "encoding": {
       "y": {"field": "path", "type": "nominal", "sort": null, "axis": null},
       "x": {"field": "lo", "type": "quantitative", "scale": {"domain": [-0.43, 0.32], "range": [76.7, 151.7], "nice": false, "zero": false}, "axis": null},
       "x2": {"field": "hi"}
     }},
    {"data": {"name": "c_ci"}, "mark": {"type": "tick", "color": "black", "size": 3.5, "thickness": 0.7},
     "encoding": {
       "y": {"field": "path", "type": "nominal", "sort": null, "axis": null},
       "x": {"field": "lo", "type": "quantitative", "scale": {"domain": [-0.43, 0.32], "range": [76.7, 151.7], "nice": false, "zero": false}, "axis": null}
     }},
    {"data": {"name": "c_ci"}, "mark": {"type": "tick", "color": "black", "size": 3.5, "thickness": 0.7},
     "encoding": {
       "y": {"field": "path", "type": "nominal", "sort": null, "axis": null},
       "x": {"field": "hi", "type": "quantitative", "scale": {"domain": [-0.43, 0.32], "range": [76.7, 151.7], "nice": false, "zero": false}, "axis": null}
     }},
    {"data": {"name": "c_ci"}, "mark": {"type": "point", "filled": true, "size": 24, "stroke": "#333333", "strokeWidth": 0.5, "opacity": 1},
     "encoding": {
       "y": {"field": "path", "type": "nominal", "sort": null, "axis": null},
       "x": {"field": "d", "type": "quantitative", "scale": {"domain": [-0.43, 0.32], "range": [76.7, 151.7], "nice": false, "zero": false}, "axis": {"orient": "bottom", "title": "Differences in mean proportion %", "titleX": 122}},
       "fill": {"field": "g", "type": "nominal"}
     }},
    {"data": {"name": "c_ci"}, "mark": {"type": "text", "align": "left", "fontSize": 6.7, "color": "black"},
     "encoding": {
       "y": {"field": "path", "type": "nominal", "sort": null, "axis": {"orient": "right", "title": "p-value (corrected)", "titleAngle": 270, "titleAlign": "center", "titleFontWeight": "normal", "titleFontSize": 7.2, "titlePadding": 3, "titleY": 134}},
       "x": {"datum": 0.343, "type": "quantitative", "scale": {"domain": [-0.43, 0.32], "range": [76.7, 151.7], "nice": false, "zero": false}, "axis": null},
       "text": {"field": "p"}
     }}
   ]
  },
  {
   "width": 182, "height": 71,
   "title": {"text": "d", "subtitle": "MBOAT7-rs641738 C/T dominant model", "anchor": "start", "frame": "group", "dx": -160, "dy": -1, "offset": 0, "fontSize": 11, "fontWeight": "bold", "subtitleFontSize": 8, "subtitleFontWeight": "bold", "subtitleColor": "black", "subtitlePadding": 0},
   "resolve": {"scale": {"x": "independent"}, "axis": {"x": "independent", "y": "independent"}},
   "layer": [
    {"data": {"name": "d_ci"}, "transform": [{"window": [{"op": "row_number", "as": "rn"}]}],
     "mark": {"type": "bar", "height": {"band": 0.8}},
     "encoding": {
       "y": {"field": "path", "type": "nominal", "sort": null, "scale": {"paddingInner": 0, "paddingOuter": 0}, "axis": {"title": null, "labels": true, "labelFontSize": 6.3, "labelPadding": 2, "labelLimit": 400, "labelColor": "black", "orient": "left"}},
       "x": {"datum": 0, "type": "quantitative", "scale": {"domain": [0, 0.64], "range": [1, 65], "nice": false, "zero": false}, "axis": null},
       "x2": {"datum": 0.64},
       "color": {"condition": {"test": "datum.rn % 2 == 0", "value": "#e2e2e2"}, "value": "transparent"}
     }},
    {"data": {"name": "d_ci"}, "transform": [{"window": [{"op": "row_number", "as": "rn"}]}],
     "mark": {"type": "bar", "height": {"band": 0.8}},
     "encoding": {
       "y": {"field": "path", "type": "nominal", "sort": null, "axis": null},
       "x": {"datum": -0.70, "type": "quantitative", "scale": {"domain": [-0.70, 0.087], "range": [79, 157.7], "nice": false, "zero": false}, "axis": null},
       "x2": {"datum": 0.087},
       "color": {"condition": {"test": "datum.rn % 2 == 0", "value": "#e2e2e2"}, "value": "transparent"}
     }},
    {"data": {"name": "d_hl"}, "mark": {"type": "rect", "fill": null, "stroke": "#e8312f", "strokeWidth": 0.8, "yOffset": -5.1, "y2Offset": 5.1},
     "encoding": {
       "y": {"field": "first", "type": "nominal", "sort": null, "axis": null},
       "y2": {"field": "last"},
       "x": {"datum": -1.72, "type": "quantitative", "scale": {"domain": [0, 0.64], "range": [1, 65], "nice": false, "zero": false}, "axis": null},
       "x2": {"datum": 1.82}
     }},
    {"data": {"name": "d_bars"}, "mark": {"type": "rule", "color": "#444444", "strokeWidth": 0.6},
     "encoding": {
       "y": {"field": "path", "type": "nominal", "sort": null, "axis": null},
       "yOffset": {"field": "g", "type": "nominal", "sort": null, "scale": {"paddingOuter": 0.15, "paddingInner": 0}},
       "x": {"field": "m", "type": "quantitative", "scale": {"domain": [0, 0.64], "range": [1, 65], "nice": false, "zero": false}, "axis": null},
       "x2": {"field": "hi"}
     }},
    {"data": {"name": "d_bars"}, "mark": {"type": "bar", "stroke": "black", "strokeWidth": 0.5},
     "encoding": {
       "y": {"field": "path", "type": "nominal", "sort": null, "axis": null},
       "yOffset": {"field": "g", "type": "nominal", "sort": null},
       "x": {"field": "m", "type": "quantitative", "scale": {"domain": [0, 0.64], "range": [1, 65], "nice": false, "zero": false}, "axis": {"orient": "bottom", "title": "Mean proportion %", "titleX": 35}},
       "fill": {"field": "g", "type": "nominal", "scale": {"domain": ["CC", "CT+TT"], "range": ["#f0901e", "#7cc52c"]},
         "legend": {"orient": "none", "legendX": -141, "legendY": -12, "direction": "horizontal", "title": null, "symbolType": "M-1,-0.42H1V0.42H-1Z", "symbolSize": 121, "symbolStrokeColor": "black", "symbolStrokeWidth": 0.8, "symbolOpacity": 1, "labelFontSize": 6.8, "labelFontWeight": "bold", "labelOffset": 9, "columnPadding": 10}}
     }},
    {"data": {"name": "d_ci"}, "mark": {"type": "tick", "color": "#777777", "size": 5, "thickness": 0.5},
     "encoding": {
       "y": {"field": "path", "type": "nominal", "sort": null, "axis": null},
       "x": {"datum": 0, "type": "quantitative", "scale": {"domain": [-0.70, 0.087], "range": [79, 157.7], "nice": false, "zero": false}, "axis": {"orient": "top", "values": [0], "ticks": true, "tickSize": 4, "tickColor": "#555555", "tickWidth": 0.6, "title": "95% confidence intervals", "titleFontWeight": "normal", "titleColor": "#222222", "titlePadding": 2, "titleX": 120}}
     }},
    {"data": {"name": "d_ci"}, "mark": {"type": "rule", "color": "#555555", "strokeWidth": 0.7},
     "encoding": {
       "y": {"field": "path", "type": "nominal", "sort": null, "axis": null},
       "x": {"field": "lo", "type": "quantitative", "scale": {"domain": [-0.70, 0.087], "range": [79, 157.7], "nice": false, "zero": false}, "axis": null},
       "x2": {"field": "hi"}
     }},
    {"data": {"name": "d_ci"}, "mark": {"type": "tick", "color": "black", "size": 3.5, "thickness": 0.7},
     "encoding": {
       "y": {"field": "path", "type": "nominal", "sort": null, "axis": null},
       "x": {"field": "lo", "type": "quantitative", "scale": {"domain": [-0.70, 0.087], "range": [79, 157.7], "nice": false, "zero": false}, "axis": null}
     }},
    {"data": {"name": "d_ci"}, "mark": {"type": "tick", "color": "black", "size": 3.5, "thickness": 0.7},
     "encoding": {
       "y": {"field": "path", "type": "nominal", "sort": null, "axis": null},
       "x": {"field": "hi", "type": "quantitative", "scale": {"domain": [-0.70, 0.087], "range": [79, 157.7], "nice": false, "zero": false}, "axis": null}
     }},
    {"data": {"name": "d_ci"}, "mark": {"type": "point", "filled": true, "size": 24, "stroke": "#333333", "strokeWidth": 0.5, "opacity": 1},
     "encoding": {
       "y": {"field": "path", "type": "nominal", "sort": null, "axis": null},
       "x": {"field": "d", "type": "quantitative", "scale": {"domain": [-0.70, 0.087], "range": [79, 157.7], "nice": false, "zero": false}, "axis": {"orient": "bottom", "title": "Differences in mean proportion %", "titleX": 119}},
       "fill": {"field": "g", "type": "nominal"}
     }},
    {"data": {"name": "d_ci"}, "mark": {"type": "text", "align": "left", "fontSize": 6.7, "color": "black"},
     "encoding": {
       "y": {"field": "path", "type": "nominal", "sort": null, "axis": {"orient": "right", "title": "p-value (corrected)", "titleAngle": 270, "titleAlign": "center", "titleFontWeight": "normal", "titleFontSize": 7.2, "titlePadding": 8, "titleY": 37}},
       "x": {"datum": 0.153, "type": "quantitative", "scale": {"domain": [-0.70, 0.087], "range": [79, 157.7], "nice": false, "zero": false}, "axis": null},
       "text": {"field": "p"}
     }}
   ]
  }
 ], "spacing": 41, "bounds": "flush",
 "resolve": {"scale": {"x": "independent", "y": "independent", "fill": "independent", "yOffset": "independent"}, "legend": {"fill": "independent"}, "axis": {"x": "independent", "y": "independent"}}}
]
}
